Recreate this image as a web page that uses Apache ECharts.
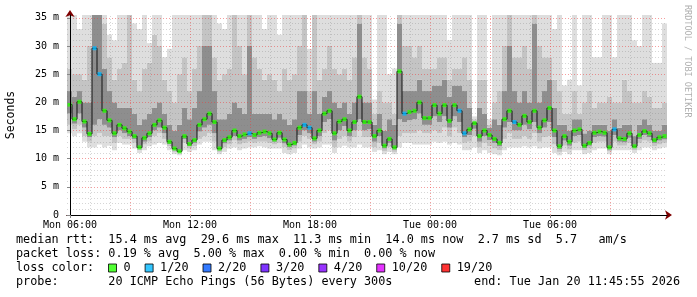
<!DOCTYPE html>
<html><head><meta charset="utf-8">
<script src="https://cdn.jsdelivr.net/npm/echarts@6/dist/echarts.min.js"></script>
<style>html,body{margin:0;padding:0;background:#fff}#c{width:697px;height:297px}</style>
</head><body><div id="c"></div>
<script>
// 120 slots of 15 minutes, starting Mon 05:51
const slotStartMinutes = -9; // relative to Mon 06:00
const slotMinutes = 15;
const median = [
19.6,17.0,20.1,16.6,14.4,29.6,25.0,18.5,16.8,14.5,16.0,15.4,14.8,14.0,12.0,13.7,14.5,16.0,16.8,15.5,13.0,11.8,11.3,14.0,
12.6,13.3,16.0,17.0,18.0,16.5,11.8,13.3,13.8,15.0,14.0,14.3,14.5,14.2,14.6,14.8,14.5,13.4,14.6,13.4,12.5,12.8,15.5,16.0,
15.5,13.6,15.0,18.0,18.5,14.5,16.6,17.0,15.0,16.5,21.0,16.5,16.5,14.0,15.0,12.3,13.5,12.0,25.5,18.0,18.3,18.5,20.0,17.2,
17.2,19.5,18.0,19.5,16.7,19.5,18.5,14.5,15.2,16.3,14.0,15.0,14.2,13.5,12.8,17.0,18.5,16.5,16.0,17.6,16.5,18.5,15.5,16.8,
19.0,15.0,12.2,14.0,13.0,15.0,15.2,12.3,12.8,14.6,14.8,14.6,12.0,15.2,13.6,13.5,14.5,12.2,14.2,14.9,14.5,13.3,13.8,14.0];
const loss = [
0,0,0,0,0,1,1,0,0,0, 0,0,0,0,0,0,0,0,0,0, 0,0,0,0,0,0,0,0,0,0,
0,0,0,0,0,0,1,0,0,0, 0,0,0,0,0,0,0,1,1,0, 0,0,0,0,0,0,0,0,0,0,
0,0,0,0,0,0,0,1,0,0, 0,0,0,0,0,0,0,0,1,1, 0,0,0,0,0,0,0,0,0,1,
0,0,0,0,0,0,0,0,0,0, 0,0,0,0,0,0,0,0,0,1, 0,0,0,0,0,0,0,0,0,0];
const smokeMin = [
14.5,14.0,14.5,13.0,12.0,12.0,12.5,12.0,12.3,11.5,12.8,12.5,12.5,11.8,11.0,11.5,12.2,12.5,12.8,12.5,11.5,10.8,10.6,11.5,
11.2,11.5,12.5,13.0,13.0,11.5,10.8,11.2,11.8,12.0,11.5,11.8,12.0,12.0,12.2,12.0,11.8,11.8,11.8,11.0,10.8,11.0,11.8,12.5,
12.0,11.8,12.0,12.5,12.5,11.0,12.0,12.3,12.0,12.0,12.5,12.0,12.0,11.2,11.5,10.8,11.2,10.8,12.0,12.8,12.8,12.5,12.5,12.5,
12.5,13.0,12.8,13.0,12.5,12.8,12.5,11.5,11.5,12.0,11.0,11.5,11.0,10.8,10.6,11.5,12.0,12.0,12.0,12.2,12.0,12.2,11.8,12.0,
12.0,11.0,10.6,11.2,10.8,11.5,11.5,10.8,11.0,11.5,11.8,11.8,10.8,11.5,11.5,11.5,11.5,11.0,11.5,12.0,12.0,11.5,11.8,12.0];
const smokeP10 = [
16.0,15.2,16.0,14.0,13.0,14.0,14.5,14.0,14.0,12.8,14.0,13.5,13.5,12.8,11.5,12.5,13.0,14.0,14.5,13.5,12.2,11.2,11.0,12.8,
11.8,12.2,13.5,14.0,14.5,13.0,11.2,12.0,12.5,13.2,12.5,12.8,13.0,12.8,13.0,13.0,12.8,12.5,12.8,12.0,11.5,11.8,13.0,14.0,
13.5,12.5,13.0,14.5,15.0,12.0,13.5,14.0,13.0,13.8,15.0,13.8,13.8,12.0,12.8,11.3,12.0,11.2,14.0,14.5,14.5,14.5,15.0,14.5,
14.5,15.0,14.5,15.5,14.0,15.5,14.5,12.8,13.0,14.0,12.0,12.8,12.2,11.8,11.5,13.5,14.5,13.5,13.5,14.0,13.5,14.5,13.0,13.8,
14.0,12.5,11.2,12.3,11.6,12.8,13.0,11.5,11.8,12.8,13.0,13.0,11.3,13.0,12.3,12.3,12.8,11.5,12.8,13.2,13.0,12.2,12.5,12.8];
const smokeP25 = [
18.0,16.2,18.0,15.5,13.8,16.0,17.0,16.0,15.5,13.8,15.0,14.5,14.0,13.5,11.8,13.0,13.8,15.0,15.5,14.5,12.6,11.5,11.2,13.5,
12.2,12.8,14.8,15.5,16.0,14.5,11.5,12.7,13.2,14.0,13.2,13.5,13.8,13.5,13.8,14.0,13.6,13.0,13.7,12.7,12.0,12.3,14.2,15.0,
14.5,13.0,14.0,16.5,17.0,13.2,15.0,15.8,14.0,15.0,17.0,15.0,15.2,13.0,14.0,11.8,12.8,11.6,17.0,16.5,16.8,17.0,18.0,16.0,
16.0,17.5,16.5,17.5,15.5,17.5,16.5,13.8,14.2,15.3,13.0,14.0,13.3,12.8,12.2,15.5,16.5,15.0,15.0,16.0,15.2,16.5,14.5,15.5,
16.5,13.8,11.7,13.2,12.3,14.0,14.2,11.9,12.3,13.8,14.0,13.9,11.6,14.2,13.0,12.9,13.7,11.9,13.5,14.2,13.8,12.8,13.2,13.4];
const smokeP75 = [
22,21,22,20,20,36,36,26,22,20,19,19,19,18,16,17,18,19,20,18,16,15,16,19,
17,19,22,30,30,22,17,17,18,20,19,18,30,18,18,18,18,17,18,17,16,17,22,22,
18,22,18,21,22,20,19,20,18,20,34,20,20,16,18,15,17,16,34,22,22,22,24,22,
22,23,23,24,21,23,23,22,19,16.6,19,18,15.5,17,16,22,30,22,20,22,20,34,20,22,
24,19,16,16,15,17,17,14.5,15,16,16,16,15,17,15.5,16,16,14,16,17,16,15,15,16];
const smokeP90 = [
26,25,25,24,30,36,36,34,28,24,26,27,36,24,22,26,27,32,30,24,22,20,25,28,
22,26,30,36,36,28,24,25,26,36,30,25,36,28,26,24,25,24,22,26,24,25,30,36,
22,36,24,26,30,26,25,26,24,28,36,28,26,18,22,20,20,18,36,30,30,28,30,26,
26,26,28,28,24,26,26,28,24,17,24,24,16,20,22,30,36,28,28,30,26,36,30,28,
28,24,22,18,18,22,18,20,22,19,20,20,21,20,20,24,22,20,20,22,21,19,19,20];
const smokeMax = [
36,36,33,36,36,36,36,36,32,31,36,36,36,34,33,36,30.5,36,36,28,29.5,36,36,36,
36,36,36,36,36,36,34,33,36,36,36,36,36,36,36,33,36,36,32,36,36,36,36,36,
29.5,36,36,36,36,36,36,36,36,36,36,36,36,20.5,36,36,25,26,36,36,36,36,36,36,
36,36,36,36,31,36,36,36,36,17.5,36,36,17,36,36,36,36,36,36,36,36,36,36,36,
36,33,36,23,24,36,23,36,36,28,28,36,36,28,36,36,36,31,30,36,36,27,27,34];
const tickMinutes = [0, 360, 720, 1080, 1440];
const tickLabels = ['Mon 06:00','Mon 12:00','Mon 18:00','Tue 00:00','Tue 06:00'];
const yTicks = [0,5,10,15,20,25,30,35];
const lossLevels = [0,1,2,3,4,10,19];
const lossNames = ['0','1/20','2/20','3/20','4/20','10/20','19/20'];
const lossColors = ['#26ff00','#00b8ff','#0059ff','#5e00ff','#7e00ff','#dd00ff','#ff0000'];
const statLines = [
 'median rtt:  15.4 ms avg  29.6 ms max  11.3 ms min  14.0 ms now  2.7 ms sd  5.7   am/s',
 'packet loss: 0.19 % avg  5.00 % max  0.00 % min  0.00 % now',
 'loss color:',
 'probe:       20 ICMP Echo Pings (56 Bytes) every 300s'
];
const endText = 'end: Tue Jan 20 11:45:55 2026';
const credit = 'RRDTOOL / TOBI OETIKER';

const N = median.length;
const cats = [];
for (let i = 0; i < N; i++) cats.push(String(slotStartMinutes + i * slotMinutes));
const MONO = '"DejaVu Sans Mono", monospace';

function diff(a, b) { return a.map((v, i) => Math.max(0, b[i] - v)); }
const bands = [
  {data: smokeMin, color: 'rgba(0,0,0,0)'},
  {data: diff(smokeMin, smokeP10), color: '#dedede'},
  {data: diff(smokeP10, smokeP25), color: '#c4c4c4'},
  {data: diff(smokeP25, smokeP75), color: '#8e8e8e'},
  {data: diff(smokeP75, smokeP90), color: '#c4c4c4'},
  {data: diff(smokeP90, smokeMax), color: '#dedede'}
];
const series = bands.map(b => ({
  type: 'bar', stack: 'smoke', xAxisIndex: 0, yAxisIndex: 0,
  data: b.data, barCategoryGap: '0%', silent: true, z: 2,
  itemStyle: {color: b.color}
}));

// grid lines (drawn over the smoke like rrdtool)
const gridLines = [];
for (let v = 1; v <= 35; v++) {
  const major = v % 5 === 0;
  gridLines.push({yAxis: v, lineStyle: {color: major ? 'rgba(235,60,60,0.5)' : 'rgba(120,120,120,0.3)', type: [1, 2], width: 1}});
}
for (let m = 0; m < 1791; m += 60) {
  const major = m % 180 === 0;
  gridLines.push({xAxis: m, lineStyle: {color: major ? 'rgba(235,60,60,0.5)' : 'rgba(120,120,120,0.3)', type: [1, 2], width: 1}});
}
series.push({
  type: 'line', xAxisIndex: 1, yAxisIndex: 0, data: [[-9, -5]], showSymbol: false, silent: true, z: 3,
  lineStyle: {opacity: 0},
  markLine: {silent: true, symbol: ['none', 'none'], label: {show: false}, animation: false, data: gridLines}
});
series.push({
  type: 'line', xAxisIndex: 0, yAxisIndex: 0, data: median, step: 'middle', symbol: 'none',
  lineStyle: {color: '#111', width: 1}, z: 5, silent: true
});
lossLevels.forEach((L, k) => {
  series.push({
    name: lossNames[k], type: 'scatter', xAxisIndex: 0, yAxisIndex: 0, symbol: 'rect', symbolSize: [4, 4],
    itemStyle: {color: lossColors[k]}, z: 6, silent: true,
    data: median.map((v, i) => loss[i] === L ? v : '-')
  });
});

const chart = echarts.init(document.getElementById('c'), null, {renderer: 'canvas'});
chart.setOption({
  animation: false,
  backgroundColor: '#fff',
  grid: {left: 67, top: 15, width: 600, height: 200, containLabel: false, outerBoundsMode: 'none'},
  xAxis: [
    {type: 'category', data: cats, show: false, boundaryGap: true},
    {type: 'value', min: -9, max: 1791, position: 'bottom', z: 10,
     axisLine: {show: true, lineStyle: {color: '#000', width: 1}},
     axisTick: {show: true, length: 3, customValues: tickMinutes, lineStyle: {color: '#888'}},
     axisLabel: {customValues: tickMinutes, margin: 5, color: '#000', fontFamily: MONO, fontSize: 10,
       formatter: v => { const k = tickMinutes.indexOf(v); return k >= 0 ? tickLabels[k] : ''; }},
     splitLine: {show: false}},
    {type: 'value', min: -9, max: 1791, position: 'bottom', z: 9,
     axisLine: {show: true, symbol: ['none', 'arrow'], symbolSize: [7, 7], symbolOffset: [0, 5],
       lineStyle: {color: '#7f0000', width: 1}},
     axisTick: {show: false}, axisLabel: {show: false}, splitLine: {show: false}}
  ],
  yAxis: [
    {type: 'value', min: 0, max: 35.5, interval: 5, z: 10,
     name: 'Seconds', nameLocation: 'middle', nameGap: 50, nameRotate: 90,
     nameTextStyle: {fontFamily: MONO, fontSize: 11.5, color: '#000'},
     axisLine: {show: true, lineStyle: {color: '#000', width: 1}},
     axisTick: {show: true, length: 3, lineStyle: {color: '#888'}},
     axisLabel: {margin: 8, color: '#000', fontFamily: MONO, fontSize: 10, showMaxLabel: false,
       formatter: v => yTicks.indexOf(v) < 0 ? '' : (v === 0 ? '0' : v + ' m')},
     splitLine: {show: false}},
    {type: 'value', min: 0, max: 35.5, interval: 5, z: 9,
     axisLine: {show: true, symbol: ['none', 'arrow'], symbolSize: [7, 7], symbolOffset: [0, 5],
       lineStyle: {color: '#7f0000', width: 1}},
     axisTick: {show: false}, axisLabel: {show: false}, splitLine: {show: false}}
  ],
  legend: {
    left: 108, top: 262, padding: 0, itemWidth: 8, itemHeight: 8, itemGap: 14, icon: 'rect',
    selectedMode: false, data: lossNames,
    itemStyle: {borderColor: '#000', borderWidth: 1},
    textStyle: {fontFamily: MONO, fontSize: 11.8, color: '#000', padding: [0, 0, 0, 2]}
  },
  graphic: [
    {type: 'text', left: 16, top: 234, silent: true, style: {text: statLines[0], font: '11.8px ' + MONO, fill: '#000'}},
    {type: 'text', left: 16, top: 248, silent: true, style: {text: statLines[1], font: '11.8px ' + MONO, fill: '#000'}},
    {type: 'text', left: 16, top: 262, silent: true, style: {text: statLines[2], font: '11.8px ' + MONO, fill: '#000'}},
    {type: 'text', left: 16, top: 276, silent: true, style: {text: statLines[3], font: '11.8px ' + MONO, fill: '#000'}},
    {type: 'text', right: 17, top: 276, silent: true, style: {text: endText, font: '11.8px ' + MONO, fill: '#000'}},
    {type: 'text', x: 692, y: 5, rotation: -Math.PI / 2, silent: true,
     style: {text: credit, font: '8.5px ' + MONO, fill: '#b0b0b0', textAlign: 'left', textVerticalAlign: 'top'}}
  ],
  series: series
});
</script></body></html>
